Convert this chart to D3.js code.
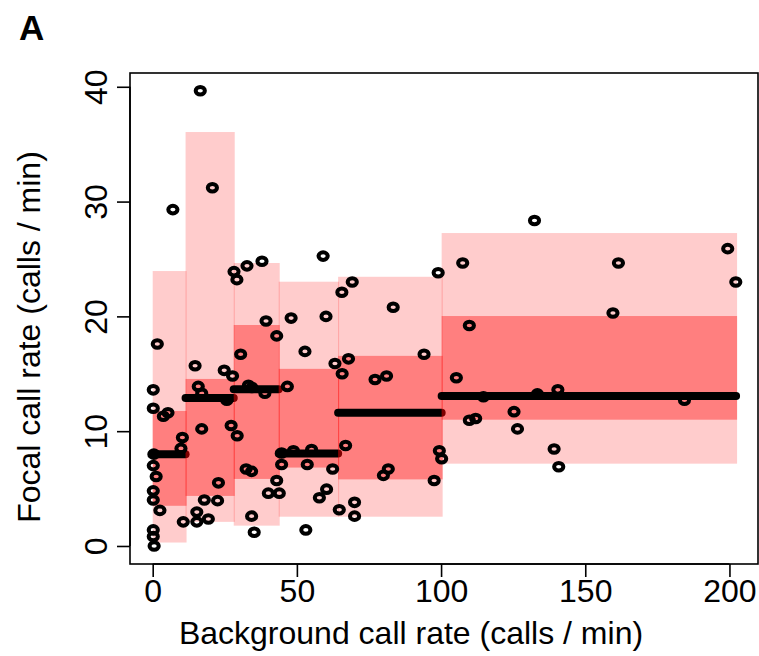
<!DOCTYPE html>
<html>
<head>
<meta charset="utf-8">
<script src="https://cdn.jsdelivr.net/npm/d3@7"></script>
<style>
  html, body { margin: 0; padding: 0; background: #fff; }
  svg { display: block; font-family: "Liberation Sans", Arial, Helvetica, sans-serif; }
</style>
</head>
<body>
<svg id="chart" width="759" height="656"></svg>
<script>
// Background call rate bins: edges, quantile bands and medians of focal call rate
const binStart = [0, 11.4, 28.1, 43.7, 64.3, 100.2];
const binEnd   = [11.4, 28.1, 43.7, 64.3, 100.2, 202.3];
const outerLow  = [0.3, 2.1, 1.77, 2.55, 2.55, 7.17];
const outerHigh = [23.95, 36.06, 24.65, 23.02, 23.45, 27.26];
const innerLow  = [3.5, 4.36, 5.84, 6.83, 5.8, 11.0];
const innerHigh = [11.76, 14.55, 19.25, 15.43, 16.56, 20.03];
const binMedian = [7.98, 12.9, 13.65, 8.06, 11.6, 13.07];

// Individual observations
const bgRate = [
  16.5, 20.7, 7.0, 28.2, 29.2, 32.7, 37.9, 59.1, 69.2, 65.6, 83.4, 99.0,
  39.3, 48.0, 60.1, 1.6, 43.0, 30.5, 52.8, 63.2, 67.9, 65.7, 94.1, 77.1,
  81.1, 14.7, 24.8, 27.7, 0.2, 15.8, 17.0, 25.7, 0.2, 5.3, 3.7, 46.7,
  33.2, 34.4, 38.9, 17.0, 27.2, 29.3, 10.3, 9.8, 0.4, 0.2, 1.2, 0.2,
  0.2, 2.5, 0.2, 0.2, 0.5, 22.8, 17.9, 22.5, 15.3, 10.6, 15.3, 19.3,
  32.4, 34.3, 43.0, 40.1, 43.9, 34.3, 35.2, 44.7, 44.7, 48.8, 55.1, 53.6,
  62.4, 66.9, 60.3, 57.8, 53.1, 64.7, 70.0, 70.0, 80.0, 81.7, 97.6, 99.4,
  100.2, 132.4, 199.4, 202.2, 161.5, 107.5, 159.6, 109.8, 105.3, 140.5, 114.7, 133.4,
  184.4, 125.3, 112.0, 109.8, 126.5, 139.2, 140.8
];
const focalRate = [
  39.65, 31.2, 29.3, 23.9, 23.2, 24.4, 24.8, 25.25, 23.0, 22.1, 20.8, 23.8,
  19.6, 19.85, 20.0, 17.6, 18.3, 16.7, 16.95, 15.9, 16.3, 15.0, 16.7, 14.5,
  14.8, 15.7, 15.3, 14.8, 13.6, 13.9, 13.3, 12.7, 12.0, 11.6, 11.3, 13.9,
  14.0, 13.8, 13.3, 10.2, 10.5, 9.6, 9.45, 8.5, 8.0, 7.0, 6.05, 4.8,
  4.0, 3.1, 1.4, 0.83, 0.0, 5.5, 4.0, 3.95, 2.95, 2.1, 2.1, 2.35,
  6.7, 6.5, 5.7, 4.6, 4.6, 2.6, 1.2, 7.1, 8.1, 8.3, 8.4, 7.1,
  6.7, 8.75, 4.95, 4.2, 1.4, 3.15, 3.8, 2.6, 6.15, 6.7, 5.7, 8.3,
  7.6, 28.35, 25.9, 23.0, 24.65, 24.65, 20.3, 19.2, 14.65, 13.6, 13.0, 13.25,
  12.7, 11.7, 11.1, 10.95, 10.2, 8.45, 6.9
];

// Axis ticks and limits
const xTicks = [0, 50, 100, 150, 200];
const yTicks = [0, 10, 20, 30, 40];
const xLimits = [-7.87, 209.9];
const yLimits = [-1.57, 41.2];

const svg = d3.select("#chart");
const box = { left: 130, right: 758, top: 73, bottom: 564 };
const fontSize = 32;

const x = d3.scaleLinear().domain(xLimits).range([box.left, box.right]);
const y = d3.scaleLinear().domain(yLimits).range([box.bottom, box.top]);

const bins = binStart.map((s, i) => ({
  s, e: binEnd[i], oLo: outerLow[i], oHi: outerHigh[i],
  iLo: innerLow[i], iHi: innerHigh[i], med: binMedian[i]
}));

// Bands and median per bin, drawn in order so each bin overlays the previous one
const bandLayer = svg.append("g");
bins.forEach(b => {
  const g = bandLayer.append("g");
  g.append("rect")
    .attr("x", x(b.s)).attr("width", x(b.e) - x(b.s) + 1)
    .attr("y", y(b.oHi)).attr("height", y(b.oLo) - y(b.oHi))
    .attr("fill", "rgba(255,0,0,0.2)");
  g.append("rect")
    .attr("x", x(b.s)).attr("width", x(b.e) - x(b.s) + 1)
    .attr("y", y(b.iHi)).attr("height", y(b.iLo) - y(b.iHi))
    .attr("fill", "rgba(255,0,0,0.375)");
  g.append("line")
    .attr("x1", x(b.s)).attr("x2", x(b.e))
    .attr("y1", y(b.med)).attr("y2", y(b.med))
    .attr("stroke", "#000").attr("stroke-width", 8)
    .attr("stroke-linecap", "round");
});

// Observations as open rings
svg.append("g").selectAll("ellipse")
  .data(bgRate.map((v, i) => [v, focalRate[i]]))
  .join("ellipse")
  .attr("cx", d => x(d[0]))
  .attr("cy", d => y(d[1]))
  .attr("rx", 4.6).attr("ry", 3.8)
  .attr("fill", "none")
  .attr("stroke", "#000")
  .attr("stroke-width", 4);

// Plot frame
svg.append("rect")
  .attr("x", box.left).attr("y", box.top)
  .attr("width", box.right - box.left).attr("height", box.bottom - box.top)
  .attr("fill", "none").attr("stroke", "#000").attr("stroke-width", 1.6);

// X axis
const xAxis = d3.axisBottom(x).tickValues(xTicks).tickSize(13).tickPadding(4)
  .tickFormat(d3.format("d"));
const gx = svg.append("g").attr("transform", `translate(0,${box.bottom})`).call(xAxis);
gx.select(".domain").attr("d", `M${x(xTicks[0])},0H${x(xTicks[xTicks.length - 1])}`)
  .attr("stroke-width", 1.6);
gx.selectAll(".tick line").attr("stroke-width", 1.6);
gx.selectAll(".tick text")
  .attr("font-size", fontSize).attr("font-family", "Liberation Sans, Arial, sans-serif")
  .attr("fill", "#000").attr("dy", "0.71em").attr("y", 15);

// Y axis (labels parallel to the axis)
const yAxis = d3.axisLeft(y).tickValues(yTicks).tickSize(13).tickFormat(d3.format("d"));
const gy = svg.append("g").attr("transform", `translate(${box.left},0)`).call(yAxis);
gy.select(".domain").attr("d", `M0,${y(yTicks[0])}V${y(yTicks[yTicks.length - 1])}`)
  .attr("stroke-width", 1.6);
gy.selectAll(".tick line").attr("stroke-width", 1.6);
gy.selectAll(".tick text")
  .attr("font-size", fontSize).attr("font-family", "Liberation Sans, Arial, sans-serif")
  .attr("fill", "#000")
  .attr("x", null).attr("dy", null)
  .attr("text-anchor", "middle")
  .attr("transform", "translate(-23,0) rotate(-90)");

// Axis titles
svg.append("text")
  .attr("x", 411).attr("y", 644)
  .attr("text-anchor", "middle").attr("font-size", fontSize)
  .text("Background call rate (calls / min)");

svg.append("text")
  .attr("transform", "translate(40,337) rotate(-90)")
  .attr("text-anchor", "middle").attr("font-size", fontSize)
  .text("Focal call rate (calls / min)");

// Panel letter
svg.append("text")
  .attr("x", 19).attr("y", 40)
  .attr("font-size", 35).attr("font-weight", "bold")
  .text("A");
</script>
</body>
</html>
